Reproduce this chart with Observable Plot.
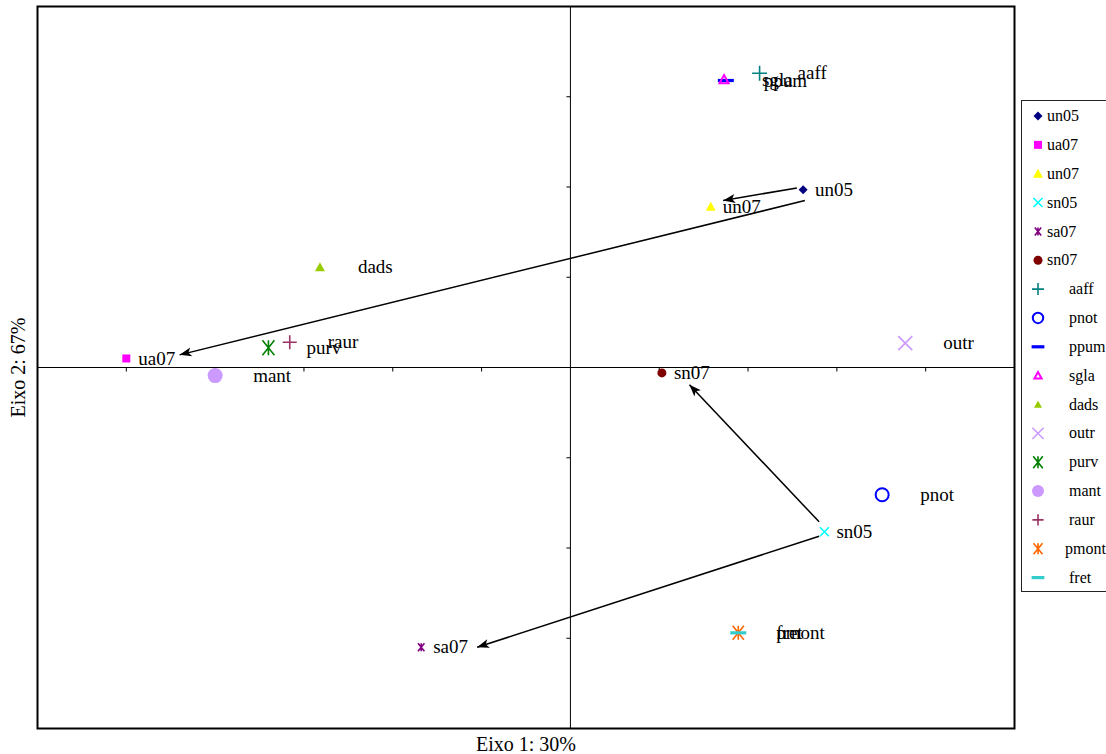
<!DOCTYPE html>
<html>
<head>
<meta charset="utf-8">
<script src="https://cdn.jsdelivr.net/npm/d3@7"></script>
<script src="https://cdn.jsdelivr.net/npm/@observablehq/plot@0.6"></script>
<style>
  html, body { margin: 0; padding: 0; background: white; }
  #wrap { position: relative; width: 1106px; height: 754px; overflow: hidden; }
  #legend { position: absolute; left: 1020px; top: 99px; }
</style>
</head>
<body>
<div id="wrap"><div id="chart"></div><div id="legend"></div></div>
<script>
// ---- data ----
const activeNames = ["un05", "ua07", "un07", "sn05", "sa07", "sn07"];
const activeX = [2.62, -5.00, 1.58, 2.86, -1.68, 1.03];
const activeY = [1.97, 0.10, 1.78, -1.82, -3.10, -0.06];

const suppNames = ["aaff", "pnot", "ppum", "sgla", "dads", "outr", "purv", "mant", "raur", "pmont", "fret"];
const suppX = [2.13, 3.51, 1.75, 1.73, -2.82, 3.77, -3.40, -4.00, -3.16, 1.89, 1.89];
const suppY = [3.26, -1.41, 3.18, 3.19, 1.11, 0.27, 0.22, -0.09, 0.28, -2.94, -2.94];

// arrows (start / end)
const arrowX1 = [2.55, 2.64, 2.80, 2.80];
const arrowY1 = [1.99, 1.85, -1.71, -1.87];
const arrowX2 = [1.72, -4.40, 1.34, -1.05];
const arrowY2 = [1.85, 0.14, -0.19, -3.10];

const xTicks = [-5, -4, -3, -2, -1, 1, 2, 3, 4];
const yTicks = [-3, -2, -1, 1, 2, 3];

const xLabel = "Eixo 1: 30%";
const yLabel = "Eixo 2: 67%";

// ---- styles ----
const activeColor = ["#000080", "#FF00FF", "#FFFF00", "#00FFFF", "#800080", "#800000"];
const activeShape = ["diamond", "square", "triangle", "x", "star", "circle"];
const activeSize = [4.5, 4, 5, 4.5, 4, 4.5];
const suppColor = ["#008080", "#0000FF", "#0000FF", "#FF00FF", "#99CC00", "#CC99FF", "#008000", "#CC99FF", "#993366", "#FF6600", "#33CCCC"];
const suppShape = ["plus", "circleOpen", "dash", "triangleOpen", "triangle", "x", "star", "circle", "plus", "star", "dash"];
const suppSize = [7.5, 6.5, 8, 4.5, 5, 7, 7.5, 7.5, 7, 7, 8];

function makeSymbol(shape, s) {
  const draws = {
    diamond: c => { c.moveTo(0, -s); c.lineTo(s, 0); c.lineTo(0, s); c.lineTo(-s, 0); c.closePath(); },
    square: c => { c.rect(-s, -s, 2 * s, 2 * s); },
    triangle: c => { c.moveTo(0, -s); c.lineTo(s, s * 0.8); c.lineTo(-s, s * 0.8); c.closePath(); },
    triangleOpen: c => { c.moveTo(0, -s); c.lineTo(s, s * 0.8); c.lineTo(-s, s * 0.8); c.closePath(); },
    x: c => { c.moveTo(-s, -s); c.lineTo(s, s); c.moveTo(s, -s); c.lineTo(-s, s); },
    star: c => { c.moveTo(-s * 0.8, -s); c.lineTo(s * 0.8, s); c.moveTo(s * 0.8, -s); c.lineTo(-s * 0.8, s); c.moveTo(0, -s); c.lineTo(0, s); },
    circle: c => { c.moveTo(s, 0); c.arc(0, 0, s, 0, 2 * Math.PI); },
    circleOpen: c => { c.moveTo(s, 0); c.arc(0, 0, s, 0, 2 * Math.PI); },
    plus: c => { c.moveTo(-s, 0); c.lineTo(s, 0); c.moveTo(0, -s); c.lineTo(0, s); },
    dash: c => { c.rect(-s, -1.6, 2 * s, 3.2); }
  };
  return { draw: draws[shape] };
}
function styleFor(shape, color) {
  if (["diamond", "square", "triangle", "circle", "dash"].includes(shape)) return { fill: color, stroke: "none" };
  if (shape === "circleOpen" || shape === "triangleOpen") return { fill: "none", stroke: color, strokeWidth: 2 };
  return { fill: "none", stroke: color, strokeWidth: 1.6 };
}

const active = activeNames.map((name, i) => ({ name, x: activeX[i], y: activeY[i], color: activeColor[i], shape: activeShape[i], size: activeSize[i] }));
const supp = suppNames.map((name, i) => ({ name, x: suppX[i], y: suppY[i], color: suppColor[i], shape: suppShape[i], size: suppSize[i] }));
const arrows = arrowX1.map((x1, i) => ({ x1, y1: arrowY1[i], x2: arrowX2[i], y2: arrowY2[i] }));

const tickDown = { draw(c) { c.moveTo(0, 0); c.lineTo(0, 4); } };
const tickLeft = { draw(c) { c.moveTo(0, 0); c.lineTo(-4, 0); } };

function arrowHead(color) {
  const m = d3.create("svg:marker")
    .attr("viewBox", "-13 -5 13 10")
    .attr("markerWidth", 13).attr("markerHeight", 10)
    .attr("markerUnits", "userSpaceOnUse")
    .attr("refX", 0).attr("refY", 0)
    .attr("orient", "auto")
    .attr("fill", color).attr("stroke", "none");
  m.append("path").attr("d", "M0,0L-12,-4.5L-9,0L-12,4.5Z");
  return m.node();
}

const font = "'Liberation Serif', serif";
const marks = [
  Plot.frame({ stroke: "#000", strokeWidth: 2 }),
  Plot.ruleX([0], { stroke: "#000", strokeWidth: 1 }),
  Plot.ruleY([0], { stroke: "#000", strokeWidth: 1 }),
  Plot.dot(xTicks, { x: d => d, y: () => 0, symbol: tickDown, stroke: "#000", fill: "none", strokeWidth: 1 }),
  Plot.dot(yTicks, { x: () => 0, y: d => d, symbol: tickLeft, stroke: "#000", fill: "none", strokeWidth: 1 }),
  Plot.link(arrows, { x1: "x1", y1: "y1", x2: "x2", y2: "y2", stroke: "#000", strokeWidth: 1.5, markerEnd: arrowHead })
];
for (const d of [...supp, ...active]) {
  marks.push(Plot.dot([d], { x: "x", y: "y", symbol: makeSymbol(d.shape, d.size), ...styleFor(d.shape, d.color) }));
}
marks.push(
  Plot.text(supp, { x: "x", y: "y", text: "name", textAnchor: "start", dx: 38, fontSize: 19, fill: "#000" }),
  Plot.text(active, { x: "x", y: "y", text: "name", textAnchor: "start", dx: 12, fontSize: 19, fill: "#000" }),
  Plot.text([xLabel], { frameAnchor: "bottom", dy: 16, textAnchor: "middle", lineAnchor: "middle", text: d => d, fontSize: 20, fill: "#000" }),
  Plot.text([yLabel], { frameAnchor: "left", dx: -19, rotate: -90, textAnchor: "middle", lineAnchor: "middle", text: d => d, fontSize: 20, fill: "#000" })
);

const chart = Plot.plot({
  width: 1106, height: 754,
  marginLeft: 37, marginRight: 92, marginTop: 6, marginBottom: 26,
  x: { domain: [-6, 5], axis: null },
  y: { domain: [-4, 4], axis: null },
  style: { fontFamily: font, fontSize: "19px", background: "white", overflow: "visible" },
  marks
});
document.getElementById("chart").appendChild(chart);

// ---- legend (SVG, symbols drawn with the same symbol definitions) ----
const items = [...active.map(d => ({ ...d, indent: 27 })), ...supp.map(d => ({ ...d, indent: 49, size: d.size * 0.8 }))];
const lg = d3.create("svg").attr("width", 100).attr("height", 494)
  .style("font-family", font).style("font-size", "16px").style("overflow", "visible");
lg.append("rect").attr("x", 1.5).attr("y", 1.5).attr("width", 100).attr("height", 491)
  .attr("fill", "white").attr("stroke", "#222").attr("stroke-width", 1);
document.getElementById("legend").appendChild(lg.node());
const visibleWidth = 1106 - 1020;
items.forEach((d, i) => {
  const cy = 17 + i * 28.85;
  const st = styleFor(d.shape, d.color);
  lg.append("path").attr("transform", `translate(18,${cy})`)
    .attr("d", d3.symbol(makeSymbol(d.shape, d.size))())
    .attr("fill", st.fill).attr("stroke", st.stroke).attr("stroke-width", st.strokeWidth || null);
  const t = lg.append("text").attr("x", d.indent).attr("y", cy).attr("dy", "0.32em")
    .attr("fill", "#000").text(d.name);
  const w = t.node().getComputedTextLength();
  if (d.indent + w > visibleWidth) t.attr("x", Math.max(d.indent - 6, visibleWidth - w));
});
</script>
</body>
</html>
